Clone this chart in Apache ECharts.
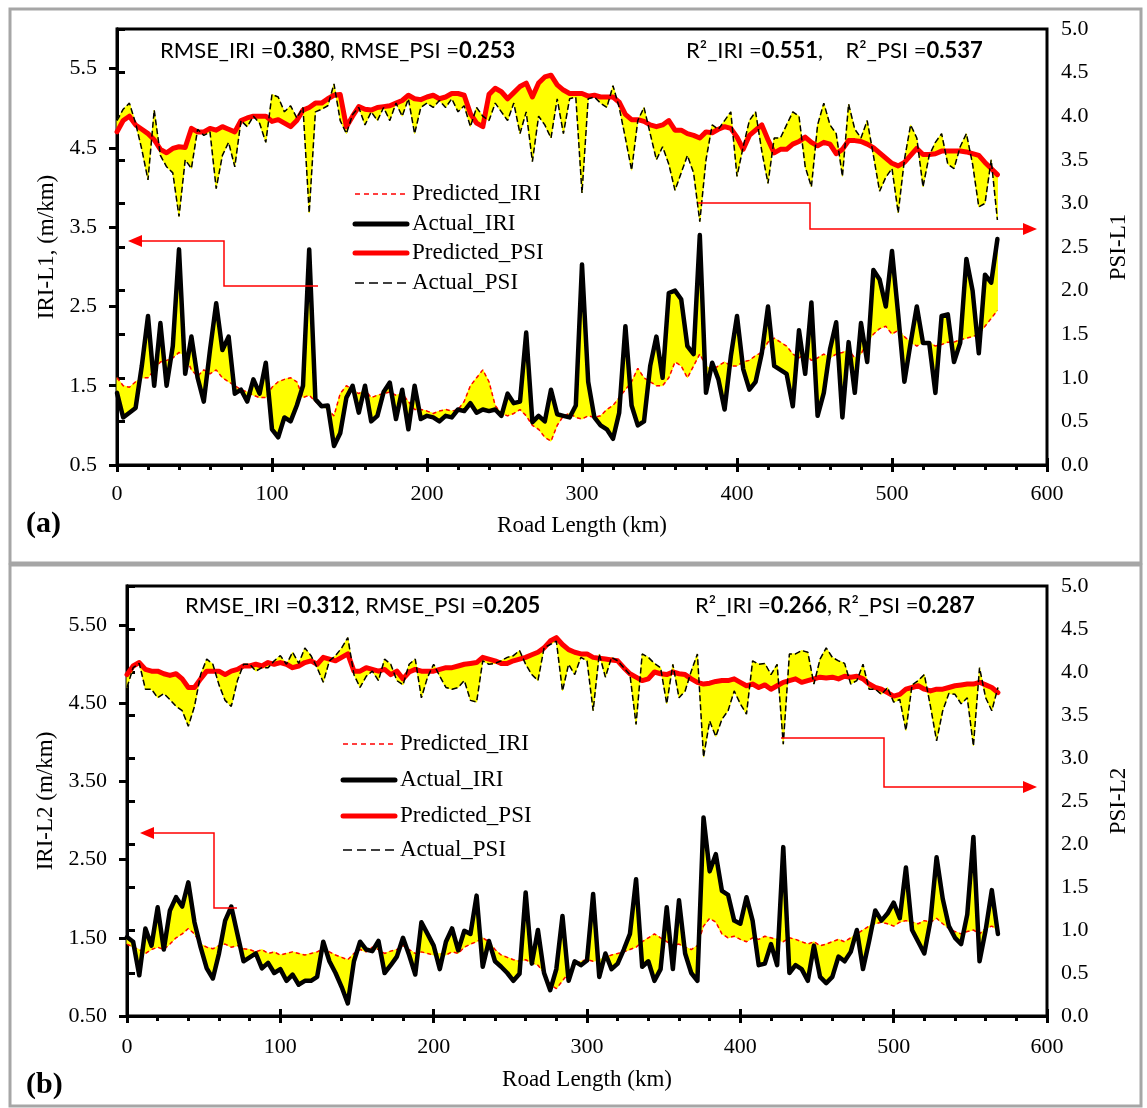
<!DOCTYPE html>
<html><head><meta charset="utf-8">
<script src="https://cdn.jsdelivr.net/npm/echarts@6/dist/echarts.min.js"></script>
<style>html,body{margin:0;padding:0;background:#fff}#c{width:1147px;height:1108px}</style>
</head><body><div id="c"></div>
<script>
// Road length sample positions (km)
const km = [0,4,8,12,16,20,24,28,32,36,40,44,48,52,56,60,64,68,72,76,80,84,88,92,96,100,104,108,112,116,120,124,128,132,136,140,144,148,152,156,160,164,168,172,176,180,184,188,192,196,200,204,208,212,216,220,224,228,232,236,240,244,248,252,256,260,264,268,272,276,280,284,288,292,296,300,304,308,312,316,320,324,328,332,336,340,344,348,352,356,360,364,368,372,376,380,384,388,392,396,400,404,408,412,416,420,424,428,432,436,440,444,448,452,456,460,464,468,472,476,480,484,488,492,496,500,504,508,512,516,520,524,528,532,536,540,544,548,552,556,560,564,568];

// Panel (a) – lane L1
const iriPredA = [1.60,1.50,1.48,1.55,1.60,1.60,1.70,1.80,1.82,1.85,1.92,1.88,1.70,1.62,1.70,1.65,1.70,1.60,1.55,1.50,1.45,1.42,1.38,1.35,1.35,1.48,1.55,1.58,1.60,1.55,1.35,1.38,1.30,1.25,1.20,1.12,1.40,1.50,1.45,1.40,1.45,1.35,1.38,1.40,1.42,1.38,1.40,1.30,1.20,1.20,1.18,1.15,1.18,1.20,1.18,1.20,1.30,1.50,1.60,1.70,1.55,1.25,1.15,1.12,1.15,1.20,1.12,1.00,0.95,0.85,0.80,1.00,1.12,1.15,1.10,1.08,1.12,1.10,1.12,1.20,1.25,1.35,1.45,1.55,1.72,1.60,1.55,1.50,1.50,1.60,1.80,1.75,1.60,1.75,1.90,1.75,1.70,1.75,1.80,1.75,1.75,1.80,1.82,1.88,1.92,2.05,2.10,2.05,2.00,1.90,1.85,1.90,1.82,1.85,1.90,1.85,1.90,1.92,1.95,1.85,1.90,2.05,2.15,2.22,2.25,2.15,2.20,2.12,2.05,2.00,2.05,2.05,2.00,2.02,2.05,2.05,2.08,2.10,2.12,2.15,2.25,2.35,2.45];
const iriActA = [1.41,1.10,1.16,1.22,1.75,2.38,1.50,2.29,1.50,2.00,3.22,1.65,2.12,1.60,1.30,1.95,2.54,1.95,2.12,1.40,1.45,1.30,1.58,1.40,1.79,0.95,0.85,1.10,1.05,1.25,1.50,3.22,1.33,1.24,1.25,0.74,0.90,1.35,1.50,1.16,1.50,1.05,1.12,1.42,1.54,1.08,1.45,0.95,1.50,1.08,1.12,1.10,1.05,1.12,1.10,1.20,1.18,1.28,1.16,1.20,1.18,1.20,1.12,1.40,1.28,1.30,2.17,1.04,1.12,1.05,1.45,1.14,1.12,1.10,1.25,3.03,1.55,1.10,1.00,0.95,0.83,1.16,2.25,1.25,1.00,1.05,1.75,2.12,1.60,2.67,2.70,2.59,2.00,1.90,3.40,1.41,1.79,1.58,1.20,1.87,2.38,1.71,1.45,1.55,1.91,2.50,1.75,1.70,1.65,1.24,2.20,1.65,2.55,1.12,1.41,1.96,2.30,1.10,2.05,1.41,2.29,1.80,2.96,2.84,2.50,3.20,2.40,1.55,2.04,2.50,2.04,2.04,1.41,2.38,2.40,1.80,2.04,3.10,2.70,1.91,2.90,2.80,3.35];
const psiPredA = [3.82,3.95,4.00,3.90,3.85,3.80,3.73,3.62,3.58,3.63,3.65,3.64,3.86,3.82,3.82,3.86,3.84,3.88,3.85,3.82,3.95,3.98,4.00,4.00,4.00,3.94,3.96,3.92,3.88,3.95,4.07,4.10,4.15,4.15,4.20,4.24,4.25,3.88,4.00,4.11,4.08,4.07,4.10,4.11,4.12,4.15,4.18,4.24,4.20,4.19,4.22,4.24,4.20,4.22,4.26,4.26,4.24,4.03,3.92,3.88,4.25,4.32,4.28,4.20,4.27,4.34,4.38,4.22,4.38,4.45,4.47,4.36,4.30,4.26,4.26,4.26,4.23,4.24,4.22,4.22,4.22,4.16,4.02,3.96,3.96,3.94,3.90,3.88,3.90,3.95,3.84,3.84,3.80,3.78,3.75,3.82,3.81,3.85,3.88,3.86,3.76,3.62,3.78,3.84,3.90,3.73,3.58,3.62,3.62,3.68,3.71,3.76,3.70,3.66,3.70,3.68,3.57,3.62,3.72,3.72,3.71,3.68,3.64,3.58,3.52,3.46,3.43,3.47,3.55,3.63,3.56,3.56,3.57,3.60,3.60,3.60,3.60,3.59,3.57,3.55,3.47,3.40,3.33];
const psiActA = [3.95,4.08,4.15,3.92,3.62,3.27,4.07,3.55,3.42,3.35,2.85,3.50,3.40,3.85,3.78,3.82,3.17,3.55,3.70,3.42,3.95,3.88,4.00,3.92,3.70,4.25,4.22,4.05,4.12,3.98,4.10,2.89,4.05,4.08,4.12,4.37,3.95,3.80,4.02,4.10,3.90,4.05,3.95,4.10,3.95,4.15,4.00,4.20,3.80,4.10,4.15,4.10,4.18,4.10,4.20,4.05,4.12,3.88,4.10,4.00,3.95,4.15,4.05,3.95,4.15,3.80,4.05,3.48,4.00,3.90,3.75,4.20,3.80,4.20,4.22,3.12,4.20,4.22,4.15,4.10,4.35,4.10,3.75,3.38,3.95,4.10,3.80,3.50,3.65,3.45,3.15,3.35,3.55,3.35,2.79,3.50,3.90,3.85,3.95,4.05,3.31,3.65,3.95,4.05,3.60,3.23,3.75,3.75,3.90,4.05,4.00,3.42,3.19,3.90,4.15,3.90,3.80,3.31,4.14,3.85,3.75,3.95,3.55,3.14,3.30,3.40,2.89,3.50,3.90,3.75,3.19,3.55,3.70,3.80,3.45,3.40,3.65,3.80,3.45,2.96,3.00,3.50,2.81];

// Panel (b) – lane L2
const iriPredB = [1.42,1.38,1.35,1.30,1.35,1.38,1.35,1.42,1.50,1.55,1.62,1.55,1.42,1.38,1.36,1.40,1.42,1.38,1.40,1.36,1.35,1.32,1.35,1.30,1.32,1.28,1.30,1.32,1.30,1.28,1.30,1.32,1.36,1.32,1.28,1.25,1.22,1.30,1.35,1.32,1.38,1.35,1.30,1.33,1.35,1.40,1.35,1.30,1.32,1.30,1.28,1.30,1.28,1.32,1.30,1.38,1.42,1.45,1.50,1.45,1.35,1.28,1.25,1.22,1.20,1.22,1.18,1.15,1.05,0.90,0.85,0.95,1.05,1.15,1.20,1.22,1.20,1.22,1.25,1.28,1.30,1.32,1.35,1.38,1.45,1.50,1.55,1.50,1.45,1.40,1.42,1.38,1.35,1.40,1.65,1.75,1.70,1.55,1.50,1.52,1.48,1.45,1.50,1.48,1.52,1.50,1.48,1.45,1.50,1.48,1.45,1.42,1.45,1.40,1.42,1.45,1.48,1.45,1.50,1.55,1.60,1.65,1.68,1.70,1.68,1.65,1.70,1.72,1.70,1.68,1.72,1.70,1.75,1.68,1.62,1.58,1.55,1.58,1.60,1.55,1.62,1.65,1.60];
const iriActB = [1.51,1.45,1.02,1.62,1.40,1.89,1.35,1.85,2.02,1.90,2.21,1.70,1.38,1.11,0.98,1.30,1.72,1.90,1.55,1.20,1.25,1.30,1.11,1.18,1.05,1.10,0.95,1.03,0.90,0.95,0.95,1.00,1.45,1.20,1.05,0.87,0.66,1.20,1.45,1.35,1.33,1.46,1.05,1.15,1.26,1.50,1.28,1.03,1.70,1.55,1.40,1.10,1.45,1.62,1.34,1.59,1.55,2.04,1.13,1.46,1.20,1.13,1.05,0.95,1.04,2.08,1.17,1.60,1.05,0.83,1.10,1.78,0.95,1.20,1.15,1.21,2.06,1.00,1.30,1.10,1.17,1.35,1.55,2.25,1.13,1.20,0.95,1.10,1.89,1.10,1.98,1.30,1.05,0.95,3.04,2.35,2.57,2.10,2.05,1.72,1.68,2.02,1.72,1.15,1.17,1.42,1.15,2.66,1.05,1.15,1.10,0.95,1.40,1.00,0.92,1.00,1.26,1.20,1.32,1.60,1.10,1.46,1.85,1.72,1.81,1.95,1.75,2.40,1.60,1.45,1.30,1.72,2.53,2.00,1.65,1.50,1.42,1.80,2.79,1.20,1.60,2.11,1.55];
const psiPredB = [3.97,4.07,4.11,4.03,4.01,4.01,3.98,3.96,3.98,3.92,3.82,3.82,3.92,4.01,4.01,4.01,3.97,4.01,4.03,4.07,4.07,4.09,4.07,4.11,4.09,4.11,4.09,4.05,4.07,4.11,4.13,4.09,4.17,4.15,4.13,4.17,4.21,4.01,4.01,4.05,4.03,4.01,4.03,3.97,4.01,3.92,4.00,4.03,4.01,4.01,4.01,4.03,4.05,4.05,4.07,4.09,4.10,4.11,4.17,4.15,4.13,4.10,4.10,4.13,4.15,4.17,4.20,4.23,4.28,4.36,4.40,4.32,4.26,4.23,4.21,4.21,4.17,4.16,4.15,4.14,4.13,4.05,3.98,3.94,3.90,3.92,4.00,3.98,3.97,4.00,3.98,3.97,3.92,3.88,3.86,3.87,3.89,3.90,3.90,3.92,3.88,3.84,3.86,3.82,3.85,3.80,3.84,3.88,3.90,3.92,3.88,3.90,3.92,3.94,3.93,3.94,3.92,3.95,3.94,3.95,3.92,3.86,3.82,3.80,3.76,3.72,3.74,3.80,3.82,3.84,3.80,3.78,3.80,3.80,3.82,3.84,3.85,3.86,3.86,3.88,3.85,3.82,3.76];
const psiActB = [3.82,4.05,4.10,3.80,3.80,3.70,3.75,3.68,3.60,3.55,3.37,3.60,3.97,4.15,4.09,3.85,3.67,3.60,3.90,4.09,4.09,4.01,4.05,4.05,4.13,4.19,4.09,4.23,4.10,4.28,4.19,4.05,3.88,4.13,4.19,4.28,4.40,3.97,3.82,3.95,4.01,3.90,4.15,4.09,3.90,3.85,4.09,4.15,3.70,3.94,4.09,3.95,3.82,3.80,3.82,3.90,3.67,3.65,4.13,4.09,4.10,4.13,4.17,4.19,4.25,4.09,3.97,3.90,4.28,4.32,4.36,3.78,4.09,3.97,4.17,4.13,3.55,4.21,3.94,4.17,4.13,4.05,3.97,3.39,4.21,4.17,4.10,4.05,3.63,4.09,3.70,3.78,4.01,4.21,3.01,3.43,3.25,3.45,3.55,3.78,3.63,3.51,4.13,4.09,4.10,3.97,4.09,3.16,4.21,4.21,4.25,4.23,3.86,4.15,4.28,4.17,4.13,4.10,3.86,3.90,4.09,3.80,3.80,3.74,3.82,3.65,3.68,3.32,3.85,3.90,3.97,3.60,3.20,3.55,3.75,3.74,3.63,3.70,3.14,4.05,3.70,3.55,3.82];

// Axis tick labels
const xTickValues = [0,100,200,300,400,500,600];
const iriTickValues = [0.5,1.5,2.5,3.5,4.5,5.5];

const SERIF = '"Liberation Serif","Times New Roman",serif';
const SANS = 'Lato,"Liberation Sans",sans-serif';
const chart = echarts.init(document.getElementById('c'), null, {renderer:'canvas'});

const pts = arr => arr.map((v,i)=>[km[i], v]);

// yellow band between predicted and actual, drawn through the axes (api.coord)
function bandSeries(xi, yi, pred, act){
  return {
    type:'custom', xAxisIndex:xi, yAxisIndex:yi, silent:true, z:1, animation:false,
    data:[[km[0], pred[0]]],
    renderItem:function(params, api){
      const points = [];
      for (let i=0;i<km.length;i++) points.push(api.coord([km[i], pred[i]]));
      for (let i=km.length-1;i>=0;i--) points.push(api.coord([km[i], act[i]]));
      return {type:'polygon', shape:{points:points}, style:{fill:'#ffff00', stroke:'#ffff00', lineWidth:1}};
    }
  };
}

function panelSeries(p, iriPred, iriAct, psiPred, psiAct){
  const xi = p*2, yl = p*2, yr = p*2+1;
  const base = {type:'line', xAxisIndex:xi, symbol:'none', smooth:false, silent:true, animation:false};
  return [
    bandSeries(xi, yl, iriPred, iriAct),
    bandSeries(xi, yr, psiPred, psiAct),
    Object.assign({}, base, {name:'Predicted_IRI', yAxisIndex:yl, data:pts(iriPred), lineStyle:{color:'#ff0000', width:1.5, type:[4,3]}, z:3}),
    Object.assign({}, base, {name:'Actual_IRI', yAxisIndex:yl, data:pts(iriAct), lineStyle:{color:'#000', width:4.5, join:'round', cap:'round'}, z:4}),
    Object.assign({}, base, {name:'Predicted_PSI', yAxisIndex:yr, data:pts(psiPred), lineStyle:{color:'#ff0000', width:5, join:'round', cap:'round'}, z:5}),
    Object.assign({}, base, {name:'Actual_PSI', yAxisIndex:yr, data:pts(psiAct), lineStyle:{color:'#000', width:1.5, type:[6,3]}, z:6})
  ];
}

function xAxes(g, nameGap, labelMargin){
  return [{
    gridIndex:g, type:'value', min:0, max:600, interval:100, position:'bottom',
    axisLine:{show:true, lineStyle:{color:'#000', width:3}},
    axisTick:{show:true, length:7, lineStyle:{color:'#000', width:3}},
    minorTick:{show:true, splitNumber:5, length:5, lineStyle:{color:'#000', width:3}},
    splitLine:{show:false}, minorSplitLine:{show:false},
    axisLabel:{fontFamily:SERIF, fontSize:22, color:'#000', margin:labelMargin},
    name:'Road Length (km)', nameLocation:'middle', nameGap:nameGap,
    nameTextStyle:{fontFamily:SERIF, fontSize:23, color:'#000'}
  },{
    gridIndex:g, type:'value', min:0, max:600, interval:100, position:'bottom',
    axisLine:{show:false}, axisLabel:{show:false}, splitLine:{show:false},
    axisTick:{show:true, inside:true, length:7, lineStyle:{color:'#000', width:3}}
  }];
}

function yAxes(g, leftName, leftGap, leftDigits, rightName){
  return [{
    gridIndex:g, type:'value', position:'left', min:0.5, max:6.0,
    axisLine:{show:true, lineStyle:{color:'#000', width:3}},
    axisTick:{show:true, length:8, customValues:iriTickValues, lineStyle:{color:'#000', width:3}},
    axisLabel:{customValues:iriTickValues, formatter:v=>v.toFixed(leftDigits), fontFamily:SERIF, fontSize:22, color:'#000', margin:20},
    splitLine:{show:false},
    name:leftName, nameLocation:'middle', nameGap:leftGap, nameRotate:90,
    nameTextStyle:{fontFamily:SERIF, fontSize:23, color:'#000'}
  },{
    gridIndex:g, type:'value', position:'right', min:0, max:5, interval:0.5,
    axisLine:{show:true, lineStyle:{color:'#000', width:3}},
    axisTick:{show:true, length:8, lineStyle:{color:'#000', width:3}},
    axisLabel:{formatter:v=>v.toFixed(1), fontFamily:SERIF, fontSize:22, color:'#000', margin:14},
    splitLine:{show:false},
    name:rightName, nameLocation:'middle', nameGap:60, nameRotate:90,
    nameTextStyle:{fontFamily:SERIF, fontSize:23, color:'#000'}
  }];
}

function legendGraphics(x1, x2, tx, ys){
  const items = [
    {t:'Predicted_IRI', c:'#ff0000', w:1.5, d:[5,4]},
    {t:'Actual_IRI', c:'#000', w:5, d:null},
    {t:'Predicted_PSI', c:'#ff0000', w:5, d:null},
    {t:'Actual_PSI', c:'#000', w:1.5, d:[9,5]}
  ];
  const out = [];
  items.forEach((it,i)=>{
    out.push({type:'line', shape:{x1:x1,y1:ys[i],x2:x2,y2:ys[i]}, style:{stroke:it.c, lineWidth:it.w, lineDash:it.d, lineCap:it.d?'butt':'round'}, z:10});
    out.push({type:'text', x:tx, y:ys[i], style:{text:it.t, font:'23px '+SERIF, fill:'#000', verticalAlign:'middle', textVerticalAlign:'middle'}, z:10});
  });
  return out;
}

function arrow(points, tip, dir){
  const [x,y] = tip; const s = dir==='left'?1:-1;
  return [
    {type:'polyline', shape:{points:points}, style:{stroke:'#ff0000', lineWidth:1.5, fill:null}, z:10},
    {type:'polygon', shape:{points:[[x,y],[x+s*14,y-6],[x+s*14,y+6]]}, style:{fill:'#ff0000'}, z:10}
  ];
}

function statText(x, y, parts){
  const rich = {
    n:{fontFamily:SANS, fontSize:22, fill:'#000', color:'#000'},
    b:{fontFamily:SANS, fontSize:22, fontWeight:'bold', fill:'#000', color:'#000'}
  };
  return {type:'text', x:x, y:y, style:{text:parts, rich:rich, verticalAlign:'middle', textVerticalAlign:'middle', font:'22px '+SANS}, z:10};
}

const graphics = [
  {type:'rect', shape:{x:10,y:9,width:1131,height:554}, style:{fill:null, stroke:'#a6a6a6', lineWidth:3}, z:0},
  {type:'rect', shape:{x:10,y:565,width:1131,height:541}, style:{fill:null, stroke:'#a6a6a6', lineWidth:3}, z:0},
  {type:'text', x:26, y:524, style:{text:'(a)', font:'bold 30px '+SERIF, fill:'#000', verticalAlign:'middle', textVerticalAlign:'middle'}, z:10},
  {type:'text', x:26, y:1085, style:{text:'(b)', font:'bold 30px '+SERIF, fill:'#000', verticalAlign:'middle', textVerticalAlign:'middle'}, z:10},
  statText(160, 51, '{n|RMSE_IRI =}{b|0.380}{n|, RMSE_PSI =}{b|0.253}'),
  statText(686, 51, '{n|R²_IRI =}{b|0.551}{n|,    R²_PSI =}{b|0.537}'),
  statText(185, 606, '{n|RMSE_IRI =}{b|0.312}{n|, RMSE_PSI =}{b|0.205}'),
  statText(695, 606, '{n|R²_IRI =}{b|0.266}{n|, R²_PSI =}{b|0.287}'),
  ...legendGraphics(355, 407, 412, [194, 224, 253, 283]),
  ...legendGraphics(343, 395, 400, [744, 780, 816, 850]),
  ...arrow([[318,286],[224,286],[224,241],[140,241]], [128,241], 'left'),
  ...arrow([[698,203],[810,203],[810,229],[1024,229]], [1037,229], 'right'),
  ...arrow([[237,908],[214,908],[214,833],[152,833]], [140,833], 'left'),
  ...arrow([[781,738],[884,738],[884,787],[1024,787]], [1037,787], 'right')
];

const option = {
  animation:false,
  backgroundColor:'#fff',
  grid:[
    {left:117, right:100, top:29, height:436, show:true, borderColor:'#000', borderWidth:3, backgroundColor:'transparent'},
    {left:127, right:100, top:586, height:430, show:true, borderColor:'#000', borderWidth:3, backgroundColor:'transparent'}
  ],
  xAxis:[...xAxes(0, 49, 18), ...xAxes(1, 52, 20)],
  yAxis:[...yAxes(0, 'IRI-L1, (m/km)', 55, 1, 'PSI-L1'), ...yAxes(1, 'IRI-L2 (m/km)', 66, 2, 'PSI-L2')],
  series:[...panelSeries(0, iriPredA, iriActA, psiPredA, psiActA), ...panelSeries(1, iriPredB, iriActB, psiPredB, psiActB)],
  graphic:graphics
};
chart.setOption(option);
</script>
</body></html>
